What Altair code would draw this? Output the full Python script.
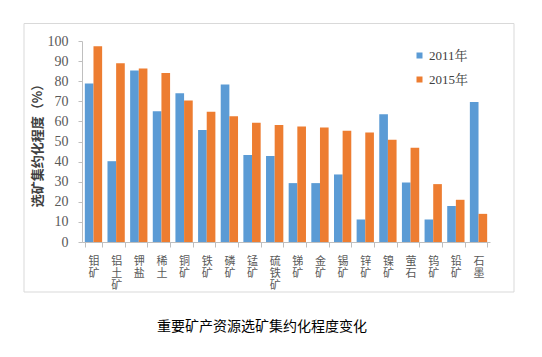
import altair as alt
import pandas as pd

categories = ["钼矿", "铝土矿", "钾盐", "稀土", "铜矿", "铁矿", "磷矿", "锰矿", "硫铁矿",
              "锑矿", "金矿", "锡矿", "锌矿", "镍矿", "萤石", "钨矿", "铅矿", "石墨"]
values_2011 = [78.8, 40.2, 85.3, 65.1, 74.0, 55.7, 78.3, 43.3, 42.8,
               29.3, 29.3, 33.6, 11.2, 63.5, 29.6, 11.2, 17.9, 69.6]
values_2015 = [97.4, 88.9, 86.3, 84.1, 70.4, 64.8, 62.6, 59.3, 58.2,
               57.5, 57.0, 55.4, 54.5, 50.9, 46.9, 28.8, 21.0, 14.0]
series = ["2011年", "2015年"]
colors = ["#5B9BD5", "#ED7D31"]
y_ticks = list(range(0, 101, 10))
y_title = "选矿集约化程度（%）"
caption = "重要矿产资源选矿集约化程度变化"

rows = []
for c, a, b in zip(categories, values_2011, values_2015):
    rows.append({"category": c, "series": series[0], "value": a})
    rows.append({"category": c, "series": series[1], "value": b})
df = pd.DataFrame(rows)

serif = "Liberation Serif, Noto Serif CJK SC, Noto Sans CJK SC"
cjk = "Noto Sans CJK SC"

bars = alt.Chart(df).mark_bar().encode(
    x=alt.X("category:N", sort=categories,
            scale=alt.Scale(paddingInner=0.236, paddingOuter=0.125),
            axis=alt.Axis(title=None, labelAngle=0,
                          labelExpr="isValid(datum.value) ? split(datum.value, '') : ''",
                          labelFont=cjk, labelFontSize=11, labelColor="#595959",
                          labelLineHeight=12, labelBaseline="top", labelPadding=8,
                          tickBand="extent", tickSize=5, tickColor="#BFBFBF",
                          domainColor="#BFBFBF", grid=False)),
    xOffset=alt.XOffset("series:N", sort=series, scale=alt.Scale(paddingInner=0)),
    y=alt.Y("value:Q", scale=alt.Scale(domain=[0, 100], nice=False),
            axis=alt.Axis(values=y_ticks, title=y_title, titleFont=cjk, titleFontSize=13,
                          titleFontWeight="bold", titleColor="#404040",
                          titleX=-45, titleY=101, titleAngle=-90,
                          titleAlign="center", titleBaseline="middle",
                          labelFont=serif, labelFontSize=14, labelColor="#595959",
                          labelPadding=10, tickSize=4, tickColor="#BFBFBF",
                          domainColor="#BFBFBF", grid=False)),
    color=alt.Color("series:N", sort=series,
                    scale=alt.Scale(domain=series, range=colors),
                    legend=alt.Legend(title=None, orient="none", legendX=331, legendY=8,
                                      symbolType="square", symbolSize=36,
                                      symbolStrokeWidth=0,
                                      labelFont=serif, labelFontSize=13,
                                      labelColor="#404040", rowPadding=10,
                                      labelOffset=3)),
)

cap_df = pd.DataFrame({"t": [caption]})

border = alt.Chart(cap_df).mark_rect(fill="transparent", stroke="#D9D9D9", strokeWidth=1).encode(
    x=alt.value(-58), x2=alt.value(432), y=alt.value(-17.5), y2=alt.value(251)
)

cap = alt.Chart(cap_df).mark_text(font=cjk, fontSize=14, color="#000000",
                                  align="center", baseline="middle").encode(
    x=alt.value(180), y=alt.value(286), text="t:N"
)

chart = alt.layer(border, bars, cap).properties(
    width=408, height=201,
    autosize=alt.AutoSizeParams(type="none"),
    padding={"left": 74, "top": 33, "right": 44, "bottom": 107},
).configure_view(stroke=None)

chart.save("out.html", embed_options={"renderer": "svg", "actions": False})
